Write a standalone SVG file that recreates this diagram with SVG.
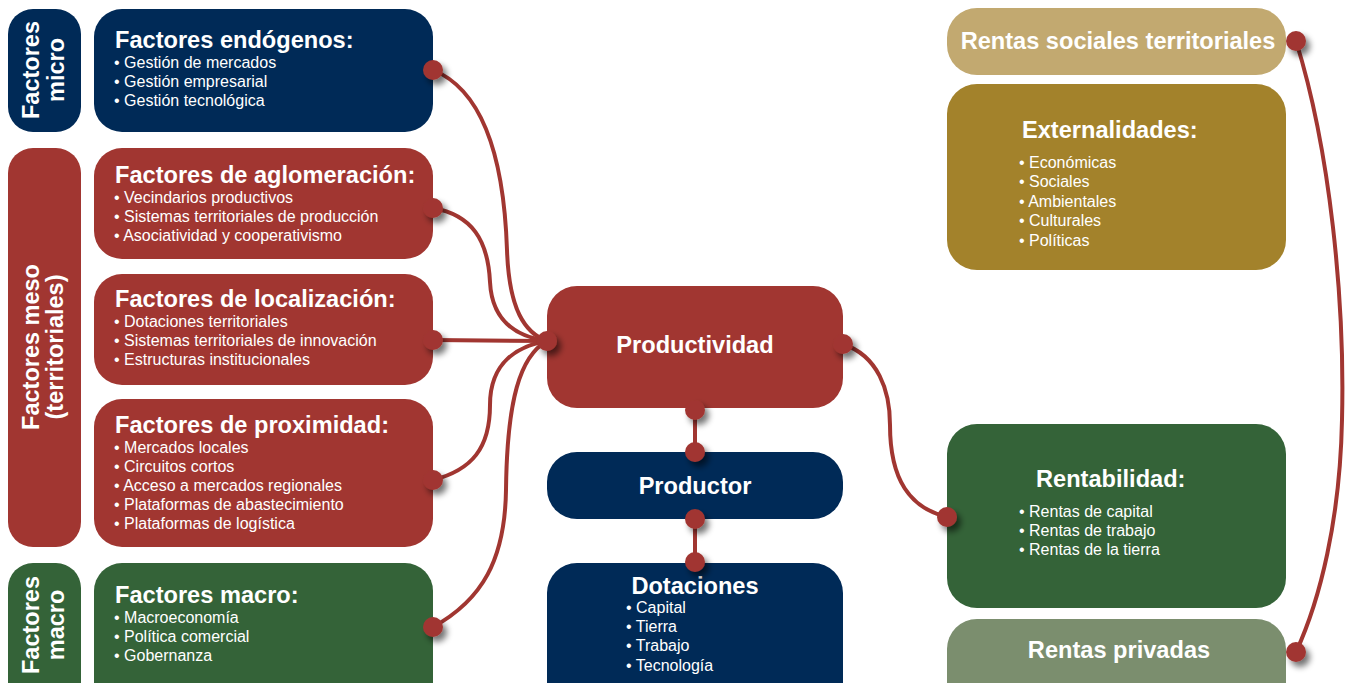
<svg xmlns="http://www.w3.org/2000/svg" width="1349" height="683" viewBox="0 0 1349 683">
<style>
text{font-family:"Liberation Sans",Arial,Helvetica,sans-serif;fill:#ffffff}
.t{font-size:23.6px;font-weight:bold}
.s{font-size:23.5px;font-weight:bold}
.b{font-size:16px}
.red{fill:#a13631}
.navy{fill:#002a57}
.green{fill:#346338}
.tan{fill:#c2a970}
.gold{fill:#a3822b}
.lgreen{fill:#7b8e6e}
.c{fill:none;stroke:#a13631;stroke-width:4;stroke-linecap:round}
.d{fill:#a13631;filter:url(#sh)}
</style>
<defs>
<filter id="sh" x="-100%" y="-100%" width="300%" height="300%">
<feGaussianBlur in="SourceAlpha" stdDeviation="3"/>
<feOffset dx="4" dy="5" result="o"/>
<feComponentTransfer><feFuncA type="linear" slope="0.55"/></feComponentTransfer>
<feMerge><feMergeNode/><feMergeNode in="SourceGraphic"/></feMerge>
</filter>
</defs>
<rect width="1349" height="683" fill="#ffffff"/>

<g id="micro-label">
<rect class="navy" x="8" y="9" width="73" height="123" rx="25"/>
<text class="s" transform="translate(38.5,70) rotate(-90)" text-anchor="middle">Factores</text>
<text class="s" transform="translate(64,70) rotate(-90)" text-anchor="middle">micro</text>
</g>
<g id="endogenos">
<rect class="navy" x="94" y="9" width="339" height="123" rx="28"/>
<text class="t" x="115" y="48">Factores endógenos:</text>
<text class="b" x="114" y="68">• Gestión de mercados</text>
<text class="b" x="114" y="87">• Gestión empresarial</text>
<text class="b" x="114" y="106">• Gestión tecnológica</text>
</g>

<g id="meso-label">
<rect class="red" x="8" y="148" width="73" height="399" rx="25"/>
<text class="s" transform="translate(38.5,347) rotate(-90)" text-anchor="middle">Factores meso</text>
<text class="s" transform="translate(63,347) rotate(-90)" text-anchor="middle">(territoriales)</text>
</g>
<g id="aglomeracion">
<rect class="red" x="94" y="148" width="339" height="111" rx="28"/>
<text class="t" x="115" y="183">Factores de aglomeración:</text>
<text class="b" x="114" y="203">• Vecindarios productivos</text>
<text class="b" x="114" y="222">• Sistemas territoriales de producción</text>
<text class="b" x="114" y="241">• Asociatividad y cooperativismo</text>
</g>
<g id="localizacion">
<rect class="red" x="94" y="274" width="339" height="111" rx="28"/>
<text class="t" x="115" y="307">Factores de localización:</text>
<text class="b" x="114" y="327">• Dotaciones territoriales</text>
<text class="b" x="114" y="346">• Sistemas territoriales de innovación</text>
<text class="b" x="114" y="365">• Estructuras institucionales</text>
</g>
<g id="proximidad">
<rect class="red" x="94" y="399" width="339" height="148" rx="28"/>
<text class="t" x="115" y="433">Factores de proximidad:</text>
<text class="b" x="114" y="453">• Mercados locales</text>
<text class="b" x="114" y="472">• Circuitos cortos</text>
<text class="b" x="114" y="491">• Acceso a mercados regionales</text>
<text class="b" x="114" y="510">• Plataformas de abastecimiento</text>
<text class="b" x="114" y="529">• Plataformas de logística</text>
</g>

<g id="macro-label">
<rect class="green" x="8" y="563" width="73" height="150" rx="25"/>
<text class="s" transform="translate(38.5,625) rotate(-90)" text-anchor="middle">Factores</text>
<text class="s" transform="translate(64,625) rotate(-90)" text-anchor="middle">macro</text>
</g>
<g id="macro">
<rect class="green" x="94" y="563" width="339" height="150" rx="28"/>
<text class="t" x="115" y="603">Factores macro:</text>
<text class="b" x="114" y="623">• Macroeconomía</text>
<text class="b" x="114" y="642">• Política comercial</text>
<text class="b" x="114" y="661">• Gobernanza</text>
</g>

<g id="productividad">
<rect class="red" x="547" y="286" width="296" height="122" rx="30"/>
<text class="t" x="695" y="353" text-anchor="middle">Productividad</text>
</g>
<g id="productor">
<rect class="navy" x="547" y="452" width="296" height="67" rx="30"/>
<text class="t" x="695" y="494" text-anchor="middle">Productor</text>
</g>
<g id="dotaciones">
<rect class="navy" x="547" y="563" width="296" height="150" rx="30"/>
<text class="t" x="695" y="594" text-anchor="middle">Dotaciones</text>
<text class="b" x="626" y="613">• Capital</text>
<text class="b" x="626" y="632">• Tierra</text>
<text class="b" x="626" y="651">• Trabajo</text>
<text class="b" x="626" y="671">• Tecnología</text>
</g>

<g id="rentas-sociales">
<rect class="tan" x="947" y="8" width="339" height="67" rx="30"/>
<text class="t" x="1118" y="49" text-anchor="middle">Rentas sociales territoriales</text>
</g>
<g id="externalidades">
<rect class="gold" x="947" y="84" width="339" height="186" rx="30"/>
<text class="t" x="1022" y="138">Externalidades:</text>
<text class="b" x="1019" y="168">• Económicas</text>
<text class="b" x="1019" y="187">• Sociales</text>
<text class="b" x="1019" y="207">• Ambientales</text>
<text class="b" x="1019" y="226">• Culturales</text>
<text class="b" x="1019" y="246">• Políticas</text>
</g>
<g id="rentabilidad">
<rect class="green" x="947" y="424" width="339" height="184" rx="30"/>
<text class="t" x="1036" y="487">Rentabilidad:</text>
<text class="b" x="1019" y="517">• Rentas de capital</text>
<text class="b" x="1019" y="536">• Rentas de trabajo</text>
<text class="b" x="1019" y="555">• Rentas de la tierra</text>
</g>
<g id="rentas-privadas">
<rect class="lgreen" x="947" y="619" width="339" height="100" rx="30"/>
<text class="t" x="1119" y="658" text-anchor="middle">Rentas privadas</text>
</g>

<g id="connectors">
<path class="c" d="M433,70 C495,95 505,190 507,250 C509,310 525,333 547,341"/>
<path class="c" d="M433,208 C472,215 488,240 490,282 C492,322 518,337 547,341"/>
<path class="c" d="M433,340 L547,341"/>
<path class="c" d="M433,480 C472,470 490,448 490,405 C490,362 518,346 547,341"/>
<path class="c" d="M433,627 C482,600 505,560 506,490 C507,400 520,356 547,341"/>
<path class="c" d="M695,410 L695,452"/>
<path class="c" d="M695,519 L695,562"/>
<path class="c" d="M843,344 C878,356 890,390 890,425 C890,480 910,508 947,517"/>
<path class="c" d="M1296,41 C1330,150 1345,300 1342,420 C1340,520 1320,600 1296,652"/>
<circle class="d" cx="433" cy="70" r="10"/>
<circle class="d" cx="433" cy="208" r="10"/>
<circle class="d" cx="433" cy="340" r="10"/>
<circle class="d" cx="433" cy="480" r="10"/>
<circle class="d" cx="433" cy="627" r="10"/>
<circle class="d" cx="547" cy="341" r="10"/>
<circle class="d" cx="843" cy="344" r="10"/>
<circle class="d" cx="695" cy="410" r="10"/>
<circle class="d" cx="695" cy="452" r="10"/>
<circle class="d" cx="695" cy="519" r="10"/>
<circle class="d" cx="695" cy="562" r="10"/>
<circle class="d" cx="947" cy="517" r="10"/>
<circle class="d" cx="1296" cy="41" r="10"/>
<circle class="d" cx="1296" cy="652" r="10"/>
</g>
</svg>
